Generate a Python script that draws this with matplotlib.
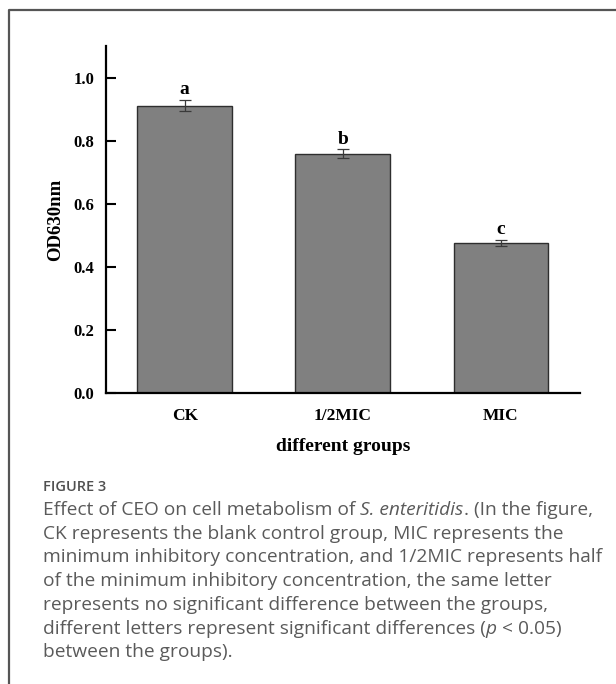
import numpy as np
import matplotlib
matplotlib.use('Agg')
import matplotlib.pyplot as plt
from matplotlib.lines import Line2D

groups = ['CK', '1/2MIC', 'MIC']
od630 = [0.911, 0.758, 0.476]
od_err = [0.017, 0.014, 0.010]
letters = ['a', 'b', 'c']
y_ticks = [0.0, 0.2, 0.4, 0.6, 0.8, 1.0]

caption_title = 'FIGURE 3'
# each caption line is a list of (text, italic) pieces
caption_lines = [
    [('Effect of CEO on cell metabolism of ', False), ('S. enteritidis', True), ('. (In the figure,', False)],
    [('CK represents the blank control group, MIC represents the', False)],
    [('minimum inhibitory concentration, and 1/2MIC represents half', False)],
    [('of the minimum inhibitory concentration, the same letter', False)],
    [('represents no significant difference between the groups,', False)],
    [('different letters represent significant differences (', False), ('p', True), (' < 0.05)', False)],
    [('between the groups).', False)],
]

W, H = 616, 684
serif = 'Liberation Serif'
cap_color = '#5a5a5a'

fig = plt.figure(figsize=(W / 100, H / 100), dpi=100)
ax = fig.add_axes([105.7 / W, 1 - 393 / H, (580 - 105.7) / W, (393 - 46) / H])

x = np.arange(len(groups))
ax.bar(x, od630, width=0.6, color='#808080', edgecolor='#2e2e2e', linewidth=1.0, zorder=2)
ax.errorbar(x, od630, yerr=od_err, fmt='none', ecolor='#3a3a3a', elinewidth=0.9,
            capsize=4, capthick=0.9, zorder=3)
for i in range(len(groups)):
    ax.text(x[i], od630[i] + od_err[i] + 0.006, letters[i], ha='center', va='bottom',
            fontsize=14, fontweight='bold', family=serif)

ax.set_xlim(-0.5, 2.5)
ax.set_ylim(0, 1.1)
ax.set_yticks(y_ticks)
ax.set_yticklabels(['%.1f' % v for v in y_ticks], fontsize=12, fontweight='bold', family=serif)
ax.set_xticks(x)
ax.set_xticklabels(groups, fontsize=12.5, fontweight='bold', family=serif)
ax.tick_params(axis='y', direction='in', length=7, width=1.5, pad=8)
ax.tick_params(axis='x', length=0, pad=11)
ax.spines['top'].set_visible(False)
ax.spines['right'].set_visible(False)
ax.spines['left'].set_linewidth(1.6)
ax.spines['bottom'].set_linewidth(1.6)
ax.set_ylabel('OD630nm', fontsize=13.5, fontweight='bold', family=serif, labelpad=7)
ax.set_xlabel('different groups', fontsize=14, fontweight='bold', family=serif, labelpad=10)

# panel frame (left and top edges)
fig.add_artist(Line2D([9 / W, 9 / W, 1.0], [0.0, 1 - 10 / H, 1 - 10 / H],
                      color='#555555', linewidth=1.6, transform=fig.transFigure))

# caption
fig.text(43 / W, 1 - 487 / H, caption_title, fontsize=10.5, color='#505050',
         family='Open Sans', fontweight='semibold', va='center')
fig.canvas.draw()
renderer = fig.canvas.get_renderer()
line_y = 515
for line in caption_lines:
    xpos = 43
    for txt, italic in line:
        t = fig.text(xpos / W, 1 - line_y / H, txt, fontsize=13.8, color=cap_color,
                     family='Open Sans', style='italic' if italic else 'normal',
                     va='baseline')
        bb = t.get_window_extent(renderer)
        xpos = bb.x1
    line_y += 23.7

fig.savefig('out.png', dpi=100)
